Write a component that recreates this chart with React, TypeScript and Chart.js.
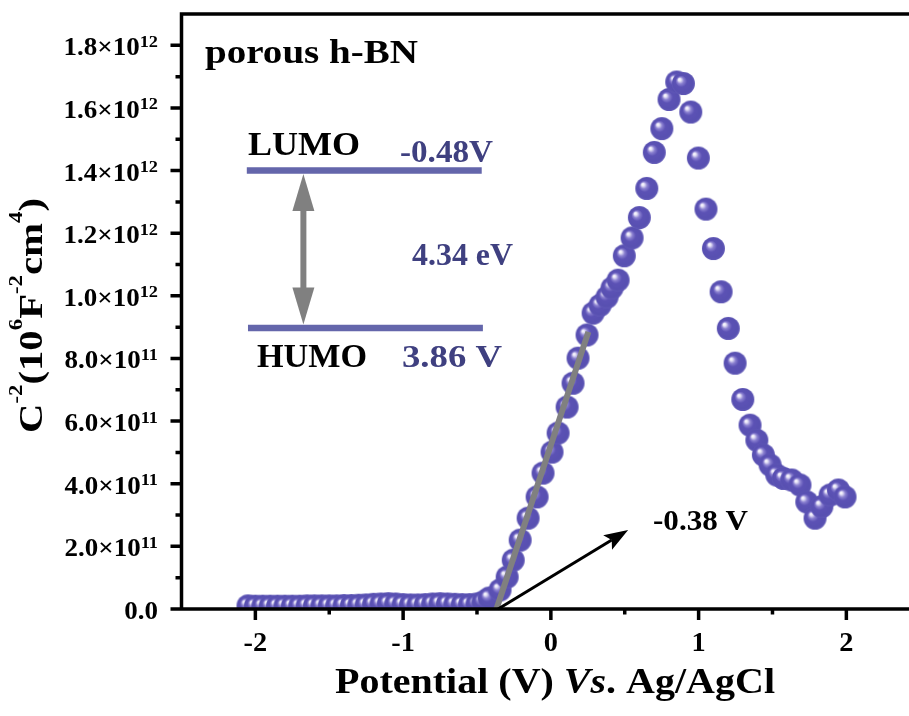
import React, { useEffect, useRef } from 'react';
import { Chart, registerables } from 'chart.js';

Chart.register(...registerables);

// Potential (V vs. Ag/AgCl)
const potential = [
  -2.05, -2.0, -1.95, -1.9, -1.85, -1.8, -1.75, -1.7, -1.65, -1.6, -1.55, -1.5, -1.45, -1.4, -1.35, -1.3,
  -1.25, -1.2, -1.15, -1.1, -1.05, -1.0, -0.95, -0.9, -0.85, -0.8, -0.75, -0.7, -0.65, -0.6, -0.55, -0.5,
  -0.46, -0.418, -0.344, -0.296, -0.255, -0.208, -0.154, -0.093, -0.053, 0.008, 0.049, 0.11, 0.15, 0.184,
  0.245, 0.286, 0.333, 0.38, 0.414, 0.455, 0.497, 0.55, 0.599, 0.649, 0.7, 0.751, 0.8, 0.852, 0.897, 0.947,
  0.998, 1.05, 1.1, 1.152, 1.201, 1.247, 1.299, 1.348, 1.394, 1.438, 1.484, 1.529, 1.574, 1.63, 1.686, 1.732,
  1.788, 1.834, 1.89, 1.946, 1.991,
];

// C^-2 in units of 10^12 (10^6 F^-2 cm^4)
const invC2 = [
  0.010, 0.009, 0.009, 0.009, 0.009, 0.009, 0.009, 0.009, 0.010, 0.010, 0.010, 0.010, 0.010, 0.011, 0.011, 0.012,
  0.013, 0.015, 0.016, 0.017, 0.016, 0.014, 0.013, 0.013, 0.014, 0.016, 0.017, 0.016, 0.015, 0.014, 0.014, 0.016,
  0.022, 0.035, 0.061, 0.102, 0.156, 0.220, 0.290, 0.358, 0.434, 0.501, 0.562, 0.645, 0.721, 0.801,
  0.875, 0.945, 0.970, 0.996, 1.025, 1.050, 1.128, 1.185, 1.250, 1.343, 1.458, 1.534, 1.627, 1.683, 1.678, 1.587,
  1.440, 1.277, 1.151, 1.013, 0.896, 0.785, 0.669, 0.587, 0.539, 0.492, 0.460, 0.428, 0.417, 0.412, 0.396, 0.342,
  0.290, 0.327, 0.364, 0.380, 0.358,
];

const xTicks = [-2, -1, 0, 1, 2];
const xTickLabels = ['-2', '-1', '0', '1', '2'];
const xMinorTicks = [-1.5, -0.5, 0.5, 1.5];
const yTicks = [0, 0.2, 0.4, 0.6, 0.8, 1.0, 1.2, 1.4, 1.6, 1.8];
const yTickMantissa = ['0.0', '2.0', '4.0', '6.0', '8.0', '1.0', '1.2', '1.4', '1.6', '1.8'];
const yTickExponent = ['', '11', '11', '11', '11', '12', '12', '12', '12', '12'];
const yMinorTicks = [0.1, 0.3, 0.5, 0.7, 0.9, 1.1, 1.3, 1.5, 1.7];

// Annotations (data coordinates)
const fitLineX = [-0.368, 0.254];
const fitLineY = [0, 0.885];
const onsetArrowX = [-0.357, 0.523];
const onsetArrowY = [0, 0.252];
const lumoX = [-2.058, -0.468];
const lumoY = 1.4;
const humoX = [-2.05, -0.46];
const humoY = 0.897;
const gapArrowX = -1.675;

const SERIF = '"Liberation Serif", "Times New Roman", serif';
const VALUE_COLOR = '#3f4080';
const LEVEL_COLOR = '#6466ab';

type Seg = { t: string; size: number; italic?: boolean; dy?: number };

function drawRich(
  ctx: CanvasRenderingContext2D,
  segs: Seg[],
  x: number,
  y: number,
  align: 'left' | 'center' | 'right',
  color: string,
  targetW?: number,
  sxDefault = 1
) {
  ctx.save();
  ctx.textBaseline = 'alphabetic';
  ctx.textAlign = 'left';
  let w = 0;
  const widths: number[] = [];
  for (const s of segs) {
    ctx.font = `${s.italic ? 'italic ' : ''}bold ${s.size}px ${SERIF}`;
    const m = ctx.measureText(s.t).width;
    widths.push(m);
    w += m;
  }
  const sx = targetW ? targetW / w : sxDefault;
  const total = w * sx;
  let x0 = x;
  if (align === 'center') x0 = x - total / 2;
  else if (align === 'right') x0 = x - total;
  ctx.translate(x0, y);
  ctx.scale(sx, 1);
  ctx.fillStyle = color;
  let cx = 0;
  segs.forEach((s, i) => {
    ctx.font = `${s.italic ? 'italic ' : ''}bold ${s.size}px ${SERIF}`;
    ctx.fillText(s.t, cx, s.dy || 0);
    cx += widths[i];
  });
  ctx.restore();
}

function makeSphere(r: number): HTMLCanvasElement {
  const c = document.createElement('canvas');
  const s = Math.ceil(2 * r) + 2;
  c.width = s;
  c.height = s;
  const g = c.getContext('2d')!;
  const cx = s / 2;
  const cy = s / 2;
  const grad = g.createRadialGradient(cx - r * 0.38, cy - r * 0.38, 0, cx, cy, r);
  grad.addColorStop(0, '#ffffff');
  grad.addColorStop(0.12, '#eae7f8');
  grad.addColorStop(0.3, '#8a80d0');
  grad.addColorStop(0.5, '#5c52b5');
  grad.addColorStop(0.85, '#5850b1');
  grad.addColorStop(1, '#6058b6');
  g.fillStyle = grad;
  g.beginPath();
  g.arc(cx, cy, r, 0, Math.PI * 2);
  g.fill();
  return c;
}

const decorPlugin = {
  id: 'decor',
  afterDatasetsDraw(chart: any) {
    const { ctx, chartArea: ca, scales } = chart;
    const xs = scales.x;
    const ys = scales.y;
    const px = (v: number) => xs.getPixelForValue(v);
    const py = (v: number) => ys.getPixelForValue(v);

    ctx.save();
    // fit line
    ctx.strokeStyle = '#808080';
    ctx.lineWidth = 6;
    ctx.lineCap = 'butt';
    ctx.beginPath();
    ctx.moveTo(px(fitLineX[0]), py(fitLineY[0]));
    ctx.lineTo(px(fitLineX[1]), py(fitLineY[1]));
    ctx.stroke();

    // onset arrow
    const ax0 = px(onsetArrowX[0]);
    const ay0 = py(onsetArrowY[0]);
    const ax1 = px(onsetArrowX[1]);
    const ay1 = py(onsetArrowY[1]);
    const ang = Math.atan2(ay1 - ay0, ax1 - ax0);
    const headL = 24;
    const headW = 8.5;
    ctx.strokeStyle = '#000';
    ctx.lineWidth = 3;
    ctx.beginPath();
    ctx.moveTo(ax0, ay0);
    ctx.lineTo(ax1 - Math.cos(ang) * headL * 0.8, ay1 - Math.sin(ang) * headL * 0.8);
    ctx.stroke();
    ctx.fillStyle = '#000';
    ctx.beginPath();
    ctx.moveTo(ax1, ay1);
    ctx.lineTo(ax1 - Math.cos(ang) * headL - Math.sin(ang) * headW, ay1 - Math.sin(ang) * headL + Math.cos(ang) * headW);
    ctx.lineTo(ax1 - Math.cos(ang) * headL * 0.8, ay1 - Math.sin(ang) * headL * 0.8);
    ctx.lineTo(ax1 - Math.cos(ang) * headL + Math.sin(ang) * headW, ay1 - Math.sin(ang) * headL - Math.cos(ang) * headW);
    ctx.closePath();
    ctx.fill();

    // LUMO / HUMO levels
    ctx.strokeStyle = LEVEL_COLOR;
    ctx.lineWidth = 6.5;
    ctx.beginPath();
    ctx.moveTo(px(lumoX[0]), py(lumoY));
    ctx.lineTo(px(lumoX[1]), py(lumoY));
    ctx.moveTo(px(humoX[0]), py(humoY));
    ctx.lineTo(px(humoX[1]), py(humoY));
    ctx.stroke();

    // double arrow
    const gx = px(gapArrowX);
    const gTop = py(lumoY) + 3.5;
    const gBot = py(humoY) - 3.5;
    const dh = 37;
    const dw = 11;
    ctx.strokeStyle = '#808080';
    ctx.fillStyle = '#808080';
    ctx.lineWidth = 6;
    ctx.beginPath();
    ctx.moveTo(gx, gTop + dh - 2);
    ctx.lineTo(gx, gBot - dh + 2);
    ctx.stroke();
    ctx.beginPath();
    ctx.moveTo(gx, gTop);
    ctx.lineTo(gx - dw, gTop + dh);
    ctx.lineTo(gx + dw, gTop + dh);
    ctx.closePath();
    ctx.fill();
    ctx.beginPath();
    ctx.moveTo(gx, gBot);
    ctx.lineTo(gx - dw, gBot - dh);
    ctx.lineTo(gx + dw, gBot - dh);
    ctx.closePath();
    ctx.fill();

    // annotation texts
    drawRich(ctx, [{ t: 'porous h-BN', size: 34 }], 205, 63, 'left', '#000', 213);
    drawRich(ctx, [{ t: 'LUMO', size: 33 }], 248, 155, 'left', '#000', 112);
    drawRich(ctx, [{ t: '-0.48V', size: 32 }], 400, 162, 'left', VALUE_COLOR, 93);
    drawRich(ctx, [{ t: '4.34 eV', size: 32 }], 412, 265, 'left', VALUE_COLOR, 101);
    drawRich(ctx, [{ t: 'HUMO', size: 33 }], 257, 367, 'left', '#000', 110);
    drawRich(ctx, [{ t: '3.86 V', size: 32 }], 402, 367, 'left', VALUE_COLOR, 100);
    drawRich(ctx, [{ t: '-0.38 V', size: 30 }], 653, 530, 'left', '#000', 95);

    // frame / axes
    ctx.strokeStyle = '#000';
    ctx.lineWidth = 3.5;
    ctx.lineCap = 'butt';
    ctx.beginPath();
    ctx.moveTo(ca.left, ca.bottom + 1.75);
    ctx.lineTo(ca.left, ca.top - 1.75);
    ctx.moveTo(ca.left - 1.75, ca.top);
    ctx.lineTo(ca.right, ca.top);
    ctx.moveTo(ca.left - 1.75, ca.bottom);
    ctx.lineTo(ca.right, ca.bottom);
    // x ticks
    xTicks.forEach((v) => {
      ctx.moveTo(px(v), ca.bottom);
      ctx.lineTo(px(v), ca.bottom + 11);
    });
    xMinorTicks.forEach((v) => {
      ctx.moveTo(px(v), ca.bottom);
      ctx.lineTo(px(v), ca.bottom + 5.5);
    });
    yTicks.forEach((v) => {
      ctx.moveTo(ca.left, py(v));
      ctx.lineTo(ca.left - 11, py(v));
    });
    yMinorTicks.forEach((v) => {
      ctx.moveTo(ca.left, py(v));
      ctx.lineTo(ca.left - 6, py(v));
    });
    ctx.stroke();

    // tick labels
    xTicks.forEach((v, i) => {
      drawRich(ctx, [{ t: xTickLabels[i], size: 27 }], px(v), ca.bottom + 42, 'center', '#000', undefined, 1.05);
    });
    yTicks.forEach((v, i) => {
      const segs: Seg[] = [{ t: yTickMantissa[i] + (yTickExponent[i] ? '×10' : ''), size: 25 }];
      if (yTickExponent[i]) segs.push({ t: yTickExponent[i], size: 17, dy: -8.5 });
      drawRich(ctx, segs, 158, py(v) + 10, 'right', '#000', undefined, 1.08);
    });

    // axis titles
    drawRich(
      ctx,
      [
        { t: 'Potential (V) ', size: 35 },
        { t: 'Vs', size: 35, italic: true },
        { t: '. Ag/AgCl', size: 35 },
      ],
      555,
      693,
      'center',
      '#000',
      440
    );
    ctx.save();
    ctx.translate(42, 315.5);
    ctx.rotate(-Math.PI / 2);
    drawRich(
      ctx,
      [
        { t: 'C', size: 34 },
        { t: '-2', size: 19, dy: -20 },
        { t: '(10', size: 34 },
        { t: '6', size: 19, dy: -20 },
        { t: 'F', size: 34 },
        { t: '-2', size: 19, dy: -20 },
        { t: 'cm', size: 34 },
        { t: '4', size: 19, dy: -20 },
        { t: ')', size: 34 },
      ],
      0,
      0,
      'center',
      '#000',
      235
    );
    ctx.restore();
    ctx.restore();
  },
};

export default function App() {
  const ref = useRef<HTMLCanvasElement | null>(null);
  useEffect(() => {
    if (!ref.current) return;
    const sphere = makeSphere(11.5);
    const chart = new Chart(ref.current, {
      type: 'scatter',
      data: {
        datasets: [
          {
            data: potential.map((v, i) => ({ x: v, y: invC2[i] })),
            pointStyle: sphere as any,
            pointRadius: 11.5,
            showLine: false,
          },
        ],
      },
      options: {
        animation: false,
        responsive: false,
        layout: { autoPadding: false, padding: { left: 181.5, top: 14, right: 0, bottom: 107 } },
        scales: {
          x: { type: 'linear', min: -2.5, max: 2.424, display: false },
          y: { type: 'linear', min: 0, max: 1.9, display: false },
        },
        plugins: { legend: { display: false }, tooltip: { enabled: false } },
        events: [],
      },
      plugins: [decorPlugin],
    });
    return () => chart.destroy();
  }, []);
  return (
    <div style={{ position: 'fixed', left: 0, top: 0, width: 909, height: 716, background: '#fff' }}>
      <canvas ref={ref} width={909} height={716} style={{ display: 'block' }} />
    </div>
  );
}
